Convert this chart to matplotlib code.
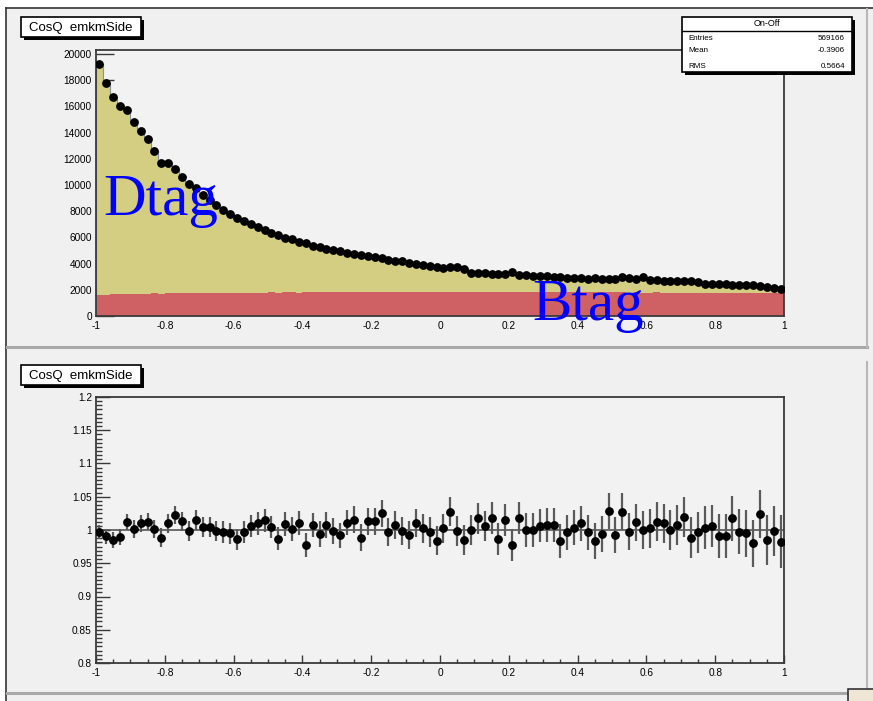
import numpy as np
import matplotlib.pyplot as plt
from matplotlib.patches import Rectangle
from matplotlib.lines import Line2D
from matplotlib.ticker import MultipleLocator

# cos(theta) distribution, on-off, 100 bins in [-1, 1]
edges = np.linspace(-1, 1, 101)
centers = 0.5 * (edges[:-1] + edges[1:])

data_counts = [
    19200, 17800, 16700, 16050, 15700, 14800, 14150, 13500, 12600, 11700,
    11650, 11200, 10600, 10050, 9750, 9250, 8850, 8450, 8100, 7800,
    7500, 7250, 7050, 6800, 6550, 6350, 6200, 5950, 5850, 5650,
    5550, 5380, 5250, 5150, 5020, 4930, 4820, 4740, 4650, 4560,
    4470, 4420, 4310, 4220, 4170, 4060, 3970, 3900, 3820, 3720,
    3680, 3720, 3760, 3550, 3300, 3260, 3250, 3240, 3200, 3180,
    3380, 3150, 3100, 3080, 3050, 3020, 3000, 2950, 2900, 2880,
    2870, 2850, 2880, 2820, 2830, 2850, 3000, 2900, 2820, 2950,
    2750, 2720, 2700, 2690, 2670, 2650, 2640, 2600, 2450, 2440,
    2430, 2420, 2400, 2380, 2370, 2350, 2300, 2190, 2100, 2040,
]

btag_counts = [
    1600, 1630, 1660, 1650, 1680, 1700, 1690, 1710, 1720, 1700,
    1730, 1720, 1740, 1750, 1730, 1760, 1750, 1770, 1760, 1770,
    1780, 1770, 1790, 1780, 1790, 1800, 1780, 1800, 1810, 1790,
    1800, 1810, 1820, 1800, 1820, 1810, 1830, 1820, 1830, 1820,
    1840, 1830, 1840, 1850, 1830, 1840, 1850, 1840, 1860, 1850,
    1860, 1850, 1850, 1860, 1840, 1850, 1860, 1850, 1840, 1850,
    1840, 1850, 1830, 1840, 1830, 1840, 1820, 1830, 1830, 1820,
    1820, 1810, 1820, 1800, 1810, 1800, 1810, 1790, 1800, 1790,
    1790, 1800, 1780, 1790, 1770, 1780, 1770, 1780, 1760, 1770,
    1760, 1750, 1760, 1740, 1750, 1740, 1750, 1730, 1740, 1730,
]

ratio = [
    0.997, 0.9905, 0.985, 0.990, 1.0125, 1.0015, 1.010, 1.0125, 1.0015, 0.9885,
    1.010, 1.0225, 1.013, 0.999, 1.0155, 1.0045, 1.005, 0.9985, 0.997, 0.995,
    0.986, 0.997, 1.006, 1.010, 1.0145, 1.0045, 0.987, 1.009, 1.0015, 1.011,
    0.9775, 1.0075, 0.994, 1.0075, 0.9985, 0.992, 1.011, 1.0155, 0.9885, 1.013,
    1.013, 1.025, 0.997, 1.0075, 0.9985, 0.992, 1.011, 1.0025, 0.997, 0.984,
    1.0026, 1.0277, 0.9985, 0.985, 1.000, 1.0176, 1.006, 1.0176, 0.986, 1.015,
    0.9775, 1.0176, 1.000, 1.000, 1.0066, 1.0076, 1.0076, 0.9835, 0.9965, 1.0036,
    1.010, 0.9965, 0.984, 0.9935, 1.0286, 0.9925, 1.0277, 0.9976, 1.0116, 1.000,
    1.0026, 1.0126, 1.010, 1.000, 1.0076, 1.020, 0.9886, 0.9965, 1.0036, 1.006,
    0.9916, 0.9916, 1.0176, 0.9976, 0.995, 0.980, 1.0236, 0.985, 0.9985, 0.9826,
]

ratio_err = [
    0.011, 0.011, 0.012, 0.012, 0.012, 0.013, 0.013, 0.013, 0.014, 0.014,
    0.014, 0.014, 0.014, 0.015, 0.015, 0.015, 0.015, 0.015, 0.016, 0.016,
    0.016, 0.016, 0.016, 0.017, 0.017, 0.017, 0.017, 0.018, 0.018, 0.018,
    0.018, 0.018, 0.019, 0.019, 0.019, 0.019, 0.019, 0.020, 0.020, 0.020,
    0.020, 0.020, 0.021, 0.021, 0.021, 0.021, 0.021, 0.022, 0.022, 0.022,
    0.022, 0.022, 0.023, 0.023, 0.023, 0.023, 0.023, 0.024, 0.024, 0.024,
    0.024, 0.024, 0.025, 0.025, 0.025, 0.025, 0.025, 0.026, 0.026, 0.026,
    0.026, 0.026, 0.027, 0.027, 0.027, 0.027, 0.028, 0.028, 0.028, 0.028,
    0.029, 0.029, 0.029, 0.030, 0.030, 0.030, 0.031, 0.031, 0.032, 0.032,
    0.033, 0.033, 0.034, 0.034, 0.035, 0.035, 0.036, 0.037, 0.038, 0.040,
]

x_ticks = [-1, -0.8, -0.6, -0.4, -0.2, 0, 0.2, 0.4, 0.6, 0.8, 1]
x_labels = ["-1", "-0.8", "-0.6", "-0.4", "-0.2", "0", "0.2", "0.4", "0.6", "0.8", "1"]
y_ticks_top = [0, 2000, 4000, 6000, 8000, 10000, 12000, 14000, 16000, 18000, 20000]
y_ticks_bot = [0.8, 0.85, 0.9, 0.95, 1.0, 1.05, 1.1, 1.15, 1.2]
y_labels_bot = ["0.8", "0.85", "0.9", "0.95", "1", "1.05", "1.1", "1.15", "1.2"]

hist_title = "CosQ  emkmSide"
stats_title = "On-Off"
stats_rows = [("Entries", "569166"), ("Mean", "-0.3906"), ("RMS", "0.5664")]

plt.rcParams['font.family'] = ['Liberation Sans', 'DejaVu Sans']

W, H = 873, 701
fig = plt.figure(figsize=(W / 100, H / 100), dpi=100, facecolor='white')


def fx(x):
    return x / W


def fy(y):
    return 1 - y / H


def rect(x0, y0, x1, y1, **kw):
    r = Rectangle((fx(x0), fy(y1)), fx(x1) - fx(x0), fy(y0) - fy(y1),
                  transform=fig.transFigure, **kw)
    fig.add_artist(r)
    return r


def hline(x0, x1, y, **kw):
    fig.add_artist(Line2D([fx(x0), fx(x1)], [fy(y), fy(y)], transform=fig.transFigure, **kw))


def vline(x, y0, y1, **kw):
    fig.add_artist(Line2D([fx(x), fx(x)], [fy(y0), fy(y1)], transform=fig.transFigure, **kw))


def label_box(x0, y0, x1, y1, z=6):
    rect(x0 + 3, y0 + 3, x1 + 3, y1 + 3, fc='black', ec='none', zorder=z)
    rect(x0, y0, x1, y1, fc='white', ec='black', lw=1.2, zorder=z + 0.1)


# canvas and pads
rect(6, 8, W, H, fc='#f0f0f0', ec='none', zorder=-10)
vline(6, 8, H, color='#333333', lw=1.2, zorder=-9)
hline(6, W, 8, color='#333333', lw=1.2, zorder=-9)
hline(7, 867, 347, color='#a8a8a8', lw=2.2, zorder=-9)
vline(867, 9, 347, color='#b8b8b8', lw=1.5, zorder=-9)
hline(7, 867, 693, color='#a8a8a8', lw=2.2, zorder=-9)
vline(867, 362, 693, color='#b8b8b8', lw=1.5, zorder=-9)
rect(848, 689, W + 2, H + 2, fc='#efe6d6', ec='#333333', lw=1.2, zorder=-8)

yellow = '#d4ce82'
red = '#cf6064'
frame_c = '#3a3a3a'

# upper pad: stacked Dtag / Btag with data points
ax1 = fig.add_axes([fx(96), fy(316), fx(784) - fx(96), fy(50) - fy(316)])
ax1.set_facecolor('#f2f2f2')
ax1.set_axisbelow(True)
ax1.stairs(data_counts, edges, baseline=0, fill=True, color=yellow, zorder=1)
ax1.stairs(btag_counts, edges, baseline=0, fill=True, color=red, zorder=1.1)
ax1.stairs(data_counts, edges, color='#8a90a4', lw=0.8, zorder=1.2)
ax1.plot(centers, data_counts, 'o', color='black', ms=5.3, zorder=3)
ax1.set_xlim(-1, 1)
ax1.set_ylim(0, 20300)
ax1.set_xticks(x_ticks, x_labels)
ax1.set_yticks(y_ticks_top, [str(v) for v in y_ticks_top])
ax1.tick_params(axis='x', length=0, labelsize=7.3, pad=3.5)
ax1.tick_params(axis='y', direction='in', length=13, width=1, color=frame_c,
                labelsize=7.3, pad=3)
for s in ax1.spines.values():
    s.set_color(frame_c)
    s.set_linewidth(1.3)

fig.text(fx(103), fy(215), "Dtag", color='blue', fontsize=42.5,
         family='Liberation Serif', ha='left', va='baseline', zorder=7)
fig.text(fx(532), fy(320), "Btag", color='blue', fontsize=42.5,
         family='Liberation Serif', ha='left', va='baseline', zorder=7)

# lower pad: ratio
ax2 = fig.add_axes([fx(96), fy(663), fx(784) - fx(96), fy(397) - fy(663)])
ax2.set_facecolor('#f2f2f2')
ax2.axhline(1.0, color='#555555', lw=1.2, zorder=1)
ax2.errorbar(centers, ratio, yerr=ratio_err, fmt='o', color='black', ms=5.3,
             ecolor='#5a5a5a', elinewidth=1.6, capsize=0, zorder=3)
ax2.set_xlim(-1, 1)
ax2.set_ylim(0.8, 1.2)
ax2.set_xticks(x_ticks, x_labels)
ax2.set_yticks(y_ticks_bot, y_labels_bot)
ax2.xaxis.set_minor_locator(MultipleLocator(0.05))
ax2.yaxis.set_minor_locator(MultipleLocator(0.00625))
ax2.tick_params(axis='x', which='major', direction='in', length=6, width=1,
                color=frame_c, labelsize=7.3, pad=3.5)
ax2.tick_params(axis='x', which='minor', direction='in', length=3, width=1, color=frame_c)
ax2.tick_params(axis='y', which='major', direction='in', length=10, width=1,
                color=frame_c, labelsize=7.3, pad=3)
ax2.tick_params(axis='y', which='minor', direction='in', length=4.5, width=1, color=frame_c)
for s in ax2.spines.values():
    s.set_color(frame_c)
    s.set_linewidth(1.3)

# title boxes
label_box(21, 17, 141, 37)
fig.text(fx(81), fy(27.5), hist_title, ha='center', va='center', fontsize=9.5, zorder=8)
label_box(21, 365, 141, 385)
fig.text(fx(81), fy(375.5), hist_title, ha='center', va='center', fontsize=9.5, zorder=8)

# stats box
label_box(682, 17, 852, 72)
hline(682, 852, 31, color='black', lw=1, zorder=8)
fig.text(fx(767), fy(24), stats_title, ha='center', va='center', fontsize=6.5, zorder=8)
for (name, val), yy in zip(stats_rows, [38.5, 51, 66]):
    fig.text(fx(688), fy(yy), name, ha='left', va='center', fontsize=5.8, zorder=8)
    fig.text(fx(845), fy(yy), val, ha='right', va='center', fontsize=5.8, zorder=8)

fig.savefig('out.png', dpi=100, facecolor='white')
